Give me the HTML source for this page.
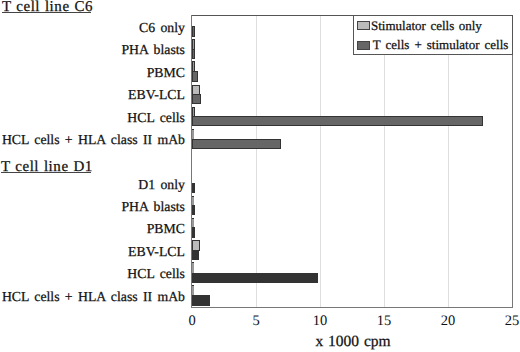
<!DOCTYPE html>
<html><head><meta charset="utf-8"><style>
html,body{margin:0;padding:0;background:#fff;}
body{width:520px;height:352px;position:relative;overflow:hidden;font-family:"Liberation Serif",serif;color:#111;-webkit-text-stroke:0.25px #111;text-rendering:geometricPrecision;}
.ax{position:absolute;background:#777;}
.g{position:absolute;top:16px;height:291px;width:1px;background:#dedede;}
.b{position:absolute;box-sizing:border-box;border:1px solid #333;}
.n{border-left:0;border-right:0;}
.t{position:absolute;top:312.8px;width:40px;text-align:center;font-size:14.5px;line-height:16px;-webkit-text-stroke:0px #111;}
.l{position:absolute;right:335px;font-size:13.75px;line-height:16px;white-space:nowrap;word-spacing:1.8px;letter-spacing:0.03px;}
.h{position:absolute;font-size:15px;line-height:18px;white-space:nowrap;word-spacing:0.5px;letter-spacing:0.55px;}
.u{position:absolute;height:1px;background:#444;}
.leg{position:absolute;left:353px;top:15px;width:160px;height:40px;border:1px solid #555;background:#fff;box-sizing:border-box;}
.sw{position:absolute;width:13px;height:9px;border:1px solid #444;box-sizing:border-box;}
.lt{position:absolute;font-size:13px;line-height:16px;white-space:nowrap;word-spacing:1.25px;}
.xl{position:absolute;left:293px;top:333.8px;width:120px;text-align:center;font-size:15.5px;line-height:16px;word-spacing:1px;}
</style></head><body>
<div class="h" style="left:2px;top:-2.4px">T cell line C6</div>
<div class="u" style="left:2px;top:12px;width:89px"></div>
<div class="h" style="left:1px;top:158.4px">T cell line D1</div>
<div class="u" style="left:1px;top:172px;width:90px"></div>
<div class="g" style="left:256px"></div>
<div class="g" style="left:320px"></div>
<div class="g" style="left:384px"></div>
<div class="g" style="left:448px"></div>
<div class="b" style="left:192px;top:26px;width:3px;height:11px;background:#666"></div>
<div class="b" style="left:192px;top:39px;width:3px;height:11px;background:#999"></div>
<div class="b" style="left:192px;top:49px;width:3px;height:10px;background:#666"></div>
<div class="b" style="left:192px;top:61px;width:3px;height:11px;background:#999"></div>
<div class="b" style="left:192px;top:71px;width:6px;height:11px;background:#666"></div>
<div class="b" style="left:192px;top:85px;width:8px;height:10px;background:#bbb"></div>
<div class="b" style="left:192px;top:94px;width:9px;height:10px;background:#666"></div>
<div class="b" style="left:192px;top:107px;width:3px;height:10px;background:#999"></div>
<div class="b" style="left:192px;top:116px;width:291px;height:10px;background:#666"></div>
<div class="b n" style="left:192px;top:129px;width:2px;height:11px;background:#999"></div>
<div class="b" style="left:192px;top:139px;width:89px;height:10px;background:#666"></div>
<div class="b" style="left:192px;top:183px;width:3px;height:10px;background:#333"></div>
<div class="b n" style="left:192px;top:196px;width:2px;height:10px;background:#999"></div>
<div class="b" style="left:192px;top:205px;width:3px;height:10px;background:#333"></div>
<div class="b n" style="left:192px;top:218px;width:2px;height:10px;background:#999"></div>
<div class="b" style="left:192px;top:227px;width:3px;height:11px;background:#333"></div>
<div class="b" style="left:192px;top:240px;width:8px;height:11px;background:#bbb"></div>
<div class="b" style="left:192px;top:250px;width:7px;height:10px;background:#333"></div>
<div class="b n" style="left:192px;top:262px;width:2px;height:12px;background:#999"></div>
<div class="b" style="left:192px;top:273px;width:126px;height:10px;background:#333"></div>
<div class="b n" style="left:192px;top:285px;width:2px;height:11px;background:#999"></div>
<div class="b" style="left:192px;top:295px;width:18px;height:11px;background:#333"></div>
<div class="ax" style="left:191px;top:15px;width:322px;height:1px;background:#555"></div>
<div class="ax" style="left:191px;top:307px;width:322px;height:1px"></div>
<div class="ax" style="left:191px;top:15px;width:1px;height:293px"></div>
<div class="ax" style="left:512px;top:15px;width:1px;height:293px"></div>
<div class="leg">
<div class="sw" style="left:3px;top:5px;background:#bbb"></div>
<div class="lt" style="left:17px;top:2px">Stimulator cells only</div>
<div class="sw" style="left:3px;top:25px;background:#666"></div>
<div class="lt" style="left:18.8px;top:21.2px;word-spacing:1.8px">T cells + stimulator cells</div>
</div>
<div class="l" style="top:19.84px">C6 only</div>
<div class="l" style="top:42.28px">PHA blasts</div>
<div class="l" style="top:64.72px">PBMC</div>
<div class="l" style="top:87.16px">EBV-LCL</div>
<div class="l" style="top:109.60px">HCL cells</div>
<div class="l" style="top:132.04px">HCL cells + HLA class II mAb</div>
<div class="l" style="top:176.92px">D1 only</div>
<div class="l" style="top:199.36px">PHA blasts</div>
<div class="l" style="top:220.80px">PBMC</div>
<div class="l" style="top:244.24px">EBV-LCL</div>
<div class="l" style="top:265.68px">HCL cells</div>
<div class="l" style="top:289.12px">HCL cells + HLA class II mAb</div>
<div class="t" style="left:172px">0</div>
<div class="t" style="left:236px">5</div>
<div class="t" style="left:300px">10</div>
<div class="t" style="left:364px">15</div>
<div class="t" style="left:428px">20</div>
<div class="t" style="left:492px">25</div>
<div class="xl">x 1000 cpm</div>
</body></html>
